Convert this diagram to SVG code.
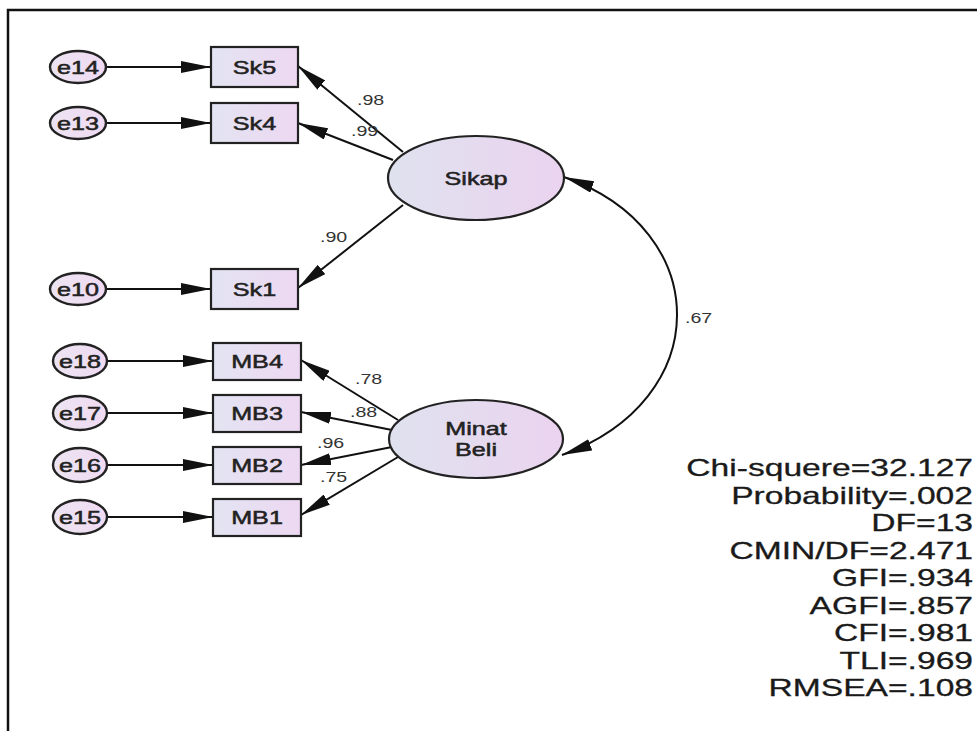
<svg xmlns="http://www.w3.org/2000/svg" width="977" height="731" viewBox="0 0 977 731">
<style>
.bg{fill:#ffffff}
.frame{fill:none;stroke:#111;stroke-width:2.5}
.err{fill:url(#gErr);stroke:#222;stroke-width:2.4}
.obs{fill:url(#gObs);stroke:#222;stroke-width:2.2}
.lat{fill:url(#gLat);stroke:#222;stroke-width:2.2}
.edge{fill:none;stroke:#111;stroke-width:2;marker-end:url(#ah)}
.cov{fill:none;stroke:#111;stroke-width:2;marker-start:url(#ahs);marker-end:url(#ah)}
.lbl{font-family:"Liberation Sans",Arial,sans-serif;font-size:18px;fill:#222;stroke:#222;stroke-width:0.5;text-anchor:middle}
.w{font-family:"Liberation Sans",Arial,sans-serif;font-size:14px;fill:#333;text-anchor:start}
.fit{font-family:"Liberation Sans",Arial,sans-serif;font-size:24px;fill:#1a1a1a;stroke:#1a1a1a;stroke-width:0.3;text-anchor:end}
</style>
<defs>
<linearGradient id="gErr" x1="0" y1="0" x2="1" y2="0"><stop offset="0" stop-color="#ece4f2"/><stop offset="1" stop-color="#f0daf2"/></linearGradient>
<linearGradient id="gObs" x1="0" y1="0" x2="1" y2="0"><stop offset="0" stop-color="#e3e4f2"/><stop offset="1" stop-color="#edd8f2"/></linearGradient>
<linearGradient id="gLat" x1="0" y1="0" x2="1" y2="0"><stop offset="0" stop-color="#dfe2ef"/><stop offset="1" stop-color="#ebd3ef"/></linearGradient>
<marker id="ah" markerUnits="userSpaceOnUse" markerWidth="30" markerHeight="12" refX="30" refY="6" orient="auto"><path d="M0,0 L30,6 L0,12 Z" fill="#111"/></marker>
<marker id="ahs" markerUnits="userSpaceOnUse" markerWidth="30" markerHeight="12" refX="0" refY="6" orient="auto"><path d="M30,0 L0,6 L30,12 Z" fill="#111"/></marker>
</defs>
<rect class="bg" x="0" y="0" width="977" height="731"/>
<path class="frame" d="M8,731 V10 H977"/>

<g id="connectors">
<line class="edge" x1="106" y1="67" x2="211" y2="67"/>
<line class="edge" x1="106" y1="123" x2="211" y2="123"/>
<line class="edge" x1="106" y1="289" x2="211" y2="289"/>
<line class="edge" x1="107" y1="361" x2="213" y2="361"/>
<line class="edge" x1="107" y1="413" x2="213" y2="413"/>
<line class="edge" x1="107" y1="465" x2="213" y2="465"/>
<line class="edge" x1="107" y1="517" x2="213" y2="517"/>
<line class="edge" x1="403" y1="152" x2="298" y2="66"/>
<line class="edge" x1="393" y1="160" x2="298" y2="123"/>
<line class="edge" x1="403" y1="205" x2="298" y2="288"/>
<line class="edge" x1="398" y1="420" x2="301" y2="360"/>
<line class="edge" x1="392" y1="430" x2="301" y2="412"/>
<line class="edge" x1="392" y1="447" x2="301" y2="465"/>
<line class="edge" x1="398" y1="457" x2="301" y2="515"/>
<path class="cov" d="M564,177 C715,230 715,400 562,455"/>
<text class="w" transform="translate(357,105) scale(1.4,1)">.98</text>
<text class="w" transform="translate(351,136) scale(1.4,1)">.99</text>
<text class="w" transform="translate(320,242) scale(1.4,1)">.90</text>
<text class="w" transform="translate(355,384) scale(1.4,1)">.78</text>
<text class="w" transform="translate(350,417) scale(1.4,1)">.88</text>
<text class="w" transform="translate(317,448) scale(1.4,1)">.96</text>
<text class="w" transform="translate(320,482) scale(1.4,1)">.75</text>
<text class="w" transform="translate(685,323) scale(1.4,1)">.67</text>
</g>

<g id="e14"><ellipse class="err" cx="78" cy="67" rx="28" ry="16"/><text class="lbl" transform="translate(78,74) scale(1.4,1)">e14</text></g>
<g id="e13"><ellipse class="err" cx="78" cy="123" rx="28" ry="16"/><text class="lbl" transform="translate(78,130) scale(1.4,1)">e13</text></g>
<g id="e10"><ellipse class="err" cx="78" cy="289" rx="28" ry="16"/><text class="lbl" transform="translate(78,296) scale(1.4,1)">e10</text></g>
<g id="e18"><ellipse class="err" cx="80" cy="361" rx="27" ry="17"/><text class="lbl" transform="translate(80,368) scale(1.4,1)">e18</text></g>
<g id="e17"><ellipse class="err" cx="80" cy="413" rx="27" ry="17"/><text class="lbl" transform="translate(80,420) scale(1.4,1)">e17</text></g>
<g id="e16"><ellipse class="err" cx="80" cy="465" rx="27" ry="17"/><text class="lbl" transform="translate(80,472) scale(1.4,1)">e16</text></g>
<g id="e15"><ellipse class="err" cx="80" cy="517" rx="27" ry="17"/><text class="lbl" transform="translate(80,524) scale(1.4,1)">e15</text></g>

<g id="Sk5"><rect class="obs" x="211" y="47" width="87" height="40"/><text class="lbl" transform="translate(254.5,74) scale(1.4,1)">Sk5</text></g>
<g id="Sk4"><rect class="obs" x="211" y="103" width="87" height="40"/><text class="lbl" transform="translate(254.5,130) scale(1.4,1)">Sk4</text></g>
<g id="Sk1"><rect class="obs" x="211" y="269" width="87" height="40"/><text class="lbl" transform="translate(254.5,296) scale(1.4,1)">Sk1</text></g>
<g id="MB4"><rect class="obs" x="213" y="343" width="88" height="37"/><text class="lbl" transform="translate(257,368) scale(1.4,1)">MB4</text></g>
<g id="MB3"><rect class="obs" x="213" y="395" width="88" height="37"/><text class="lbl" transform="translate(257,420) scale(1.4,1)">MB3</text></g>
<g id="MB2"><rect class="obs" x="213" y="447" width="88" height="37"/><text class="lbl" transform="translate(257,472) scale(1.4,1)">MB2</text></g>
<g id="MB1"><rect class="obs" x="213" y="499" width="88" height="37"/><text class="lbl" transform="translate(257,524) scale(1.4,1)">MB1</text></g>

<g id="Sikap"><ellipse class="lat" cx="476" cy="178" rx="88" ry="42"/><text class="lbl" transform="translate(476,185) scale(1.4,1)">Sikap</text></g>
<g id="MinatBeli"><ellipse class="lat" cx="476" cy="439" rx="87" ry="39"/><text class="lbl" transform="translate(476,435) scale(1.4,1)">Minat</text><text class="lbl" transform="translate(476,456) scale(1.4,1)">Beli</text></g>

<g id="fit">
<text class="fit" transform="translate(973,476) scale(1.4,1)">Chi-squere=32.127</text>
<text class="fit" transform="translate(973,503.5) scale(1.4,1)">Probability=.002</text>
<text class="fit" transform="translate(973,531) scale(1.4,1)">DF=13</text>
<text class="fit" transform="translate(973,558.5) scale(1.4,1)">CMIN/DF=2.471</text>
<text class="fit" transform="translate(973,586) scale(1.4,1)">GFI=.934</text>
<text class="fit" transform="translate(973,613.5) scale(1.4,1)">AGFI=.857</text>
<text class="fit" transform="translate(973,641) scale(1.4,1)">CFI=.981</text>
<text class="fit" transform="translate(973,668.5) scale(1.4,1)">TLI=.969</text>
<text class="fit" transform="translate(973,696) scale(1.4,1)">RMSEA=.108</text>
</g>
</svg>
